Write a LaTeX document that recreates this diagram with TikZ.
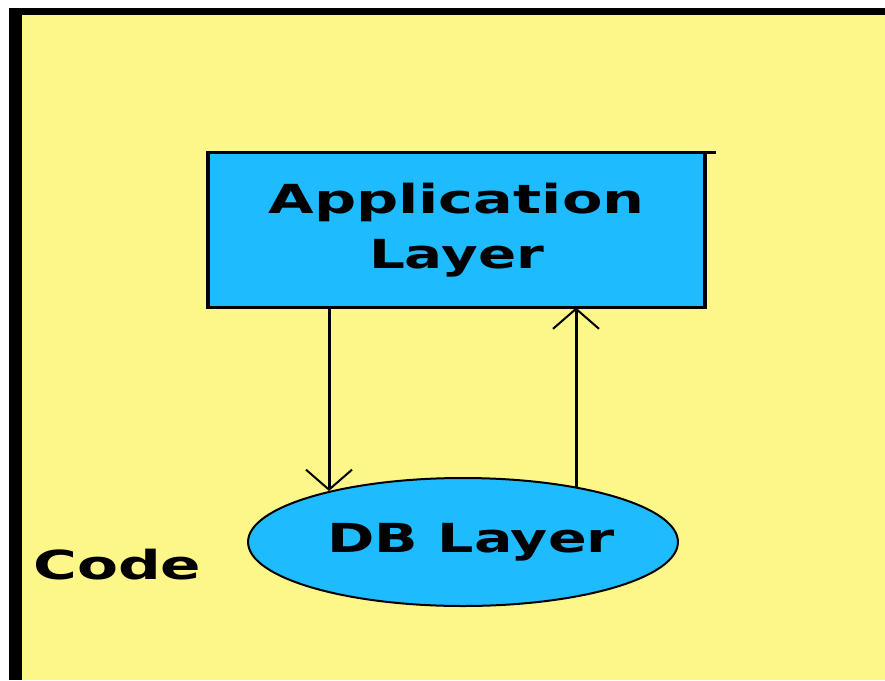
\documentclass[tikz,border=0pt]{standalone}
\usepackage{fontspec}
\setmainfont{DejaVu Sans}
\usetikzlibrary{arrows.meta,shapes.geometric}
\definecolor{bgy}{RGB}{253,247,138}
\definecolor{boxb}{RGB}{30,187,255}
\newlength\fitlen
\newcommand\fitw[2]{\settowidth\fitlen{#2}\scalebox{\fpeval{#1/\fitlen}}[1]{#2}}
\begin{document}
\begin{tikzpicture}[x=1pt,y=-1pt,
  lbl/.style={font=\fontsize{40}{55}\selectfont\bfseries, text=black, inner sep=0pt},
  arr/.style={line width=3pt, -{Straight Barb[length=20pt,width=46pt,line width=2pt]}}]
\useasboundingbox (0,0) rectangle (885,680);
\fill[white] (0,0) rectangle (885,680);
\fill[black] (9,8) rectangle (885,680);
\fill[bgy] (22,15) rectangle (885,680);
\node[lbl, draw, line width=3.5pt, outer sep=0pt, fill=boxb, minimum width=497pt, minimum height=155pt, align=center] (app) at (456.5,230) {\fitw{376}{Application}\\\fitw{175}{Layer}};
\draw[line width=3.5pt] (app.north east) -- ++(11,0);
\node[lbl, ellipse, draw, line width=2pt, outer sep=0pt, fill=boxb, minimum width=426pt, minimum height=128pt] (db) at (463,542) {\hspace*{16pt}\fitw{288}{DB Layer}};
\node[lbl, anchor=base west] (code) at (33,579) {\fitw{168}{Code}};
\coordinate (dtip) at (329,491);
\coordinate (utail) at (576,487);
\draw[arr] (app.south -| dtip) -- (dtip);
\draw[arr] (utail) -- (utail |- app.south);
\end{tikzpicture}
\end{document}
